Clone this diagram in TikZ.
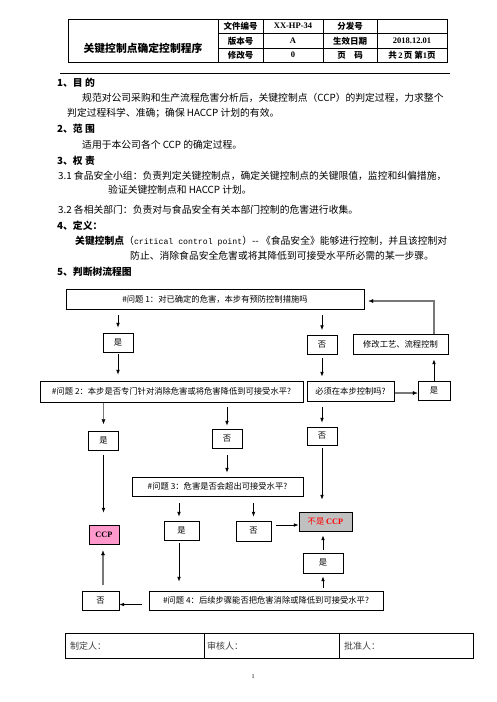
\documentclass[tikz,border=0pt]{standalone}
\usepackage{fontspec}
\setmainfont{Noto Sans CJK SC}
\newfontfamily\serifb{Liberation Serif}
\newfontfamily\monof{Liberation Mono}
\usetikzlibrary{arrows.meta}
\definecolor{ccppink}{RGB}{255,153,204}
\definecolor{ncgray}{RGB}{192,192,192}
\definecolor{lgray}{RGB}{120,120,120}
\begin{document}
\begin{tikzpicture}[x=1pt,y=-1pt,
  tbl/.style={draw, line width=0.8pt},
  cell/.style={inner sep=0pt, font=\fontsize{8.5}{10}\selectfont\bfseries},
  txt/.style={anchor=west, inner sep=0pt, font=\fontsize{9.8}{12}\selectfont},
  hd/.style={anchor=west, inner sep=0pt, font=\fontsize{9.8}{12}\selectfont\bfseries},
  box/.style={draw, line width=0.8pt, inner sep=0pt, minimum height=19pt, font=\fontsize{8.3}{10}\selectfont},
  arr/.style={draw, line width=0.8pt, -{Latex[length=4.8pt,width=3.8pt]}},
  garr/.style={draw=lgray, line width=1.3pt, -{Latex[length=4.8pt,width=3.8pt,color=black,fill=black,line width=0.3pt]}}
]
\useasboundingbox (0,0) rectangle (496,702);
\fill[white] (0,0) rectangle (496,702);

% header table
\draw[tbl] (68,19) rectangle (447,62);
\foreach \xx in {218,263,323,377} \draw[tbl] (\xx,19) -- (\xx,62);
\draw[tbl] (218,33.5) -- (447,33.5);
\draw[tbl] (218,48) -- (447,48);
\node[cell, font=\fontsize{10.8}{12}\selectfont\bfseries] (title) at (143,48) {关键控制点确定控制程序};
\node[cell] (c11) at (240.5,26) {文件编号};
\node[cell] (c12) at (293,26) {\serifb\bfseries XX-HP-34};
\node[cell] (c13) at (350,26) {分发号};
\node[cell] (c21) at (240.5,41) {版本号};
\node[cell] (c22) at (293,41) {\serifb\bfseries A};
\node[cell] (c23) at (350,41) {生效日期};
\node[cell] (c24) at (412,41) {\serifb\bfseries 2018.12.01};
\node[cell] (c31) at (240.5,55) {修改号};
\node[cell] (c32) at (293,55) {\serifb\bfseries 0};
\node[cell] (c33) at (350,55) {页\quad 码};
\node[cell] (c34) at (412,55) {共{\serifb\bfseries\,2\,}页 第{\serifb\bfseries 1}页};

\draw[line width=1pt] (60,73) -- (450,73);

% body text
\node[hd] (h1) at (57,83) {1、目\ 的};
\node[txt] (l2) at (82,98) {规范对公司采购和生产流程危害分析后，关键控制点（CCP）的判定过程，力求整个};
\node[txt] (l3) at (67,113) {判定过程科学、准确；确保 HACCP 计划的有效。};
\node[hd] (h2) at (57,129) {2、范\ 围};
\node[txt] (l5) at (82,145) {适用于本公司各个 CCP 的确定过程。};
\node[hd] (h3) at (57,161) {3、权\ 责};
\node[txt] (l7) at (58,176) {3.1 食品安全小组：负责判定关键控制点，确定关键控制点的关键限值，监控和纠偏措施，};
\node[txt] (l8) at (108,190) {验证关键控制点和 HACCP 计划。};
\node[txt] (l9) at (58,210) {3.2\ 各相关部门：负责对与食品安全有关本部门控制的危害进行收集。};
\node[hd] (h4) at (57,226) {4、定义：};
\node[txt] (l11) at (75,241) {\textbf{关键控制点}（{\monof\fontsize{8.2}{10}\selectfont critical control point}）-{}- 《食品安全》能够进行控制，并且该控制对};
\node[txt] (l12) at (130,256) {防止、消除食品安全危害或将其降低到可接受水平所必需的某一步骤。};
\node[hd] (h5) at (57,272) {5、判断树流程图};

% flowchart boxes
\node[box, minimum width=298pt, minimum height=20pt] (q1) at (215,299) {\#问题 1：对已确定的危害，本步有预防控制措施吗};
\node[box, minimum width=30pt] (yes1) at (118,342.5) {是};
\node[box, minimum width=30pt] (no1) at (322,345) {否};
\node[box, minimum width=95pt, minimum height=20pt] (mod) at (400.5,344) {修改工艺、流程控制};
\node[box, minimum width=263pt, minimum height=21pt] (q2) at (171.5,391.5) {\#问题 2：本步是否专门针对消除危害或将危害降低到可接受水平?};
\node[box, minimum width=87pt, minimum height=20pt] (must) at (350.5,391) {必须在本步控制吗?};
\node[box, minimum width=32pt] (yesR) at (434,391) {是};
\node[box, minimum width=30pt] (yes2) at (103.5,441) {是};
\node[box, minimum width=30pt] (no2) at (227,438.5) {否};
\node[box, minimum width=30pt, minimum height=18pt] (no3) at (322,436) {否};
\node[box, minimum width=171pt] (q3) at (217.5,486.5) {\#问题 3：危害是否会超出可接受水平?};
\node[box, minimum width=30pt, fill=ccppink] (ccp) at (104,534.5) {\serifb\bfseries CCP};
\node[box, minimum width=35pt] (yes3) at (181.5,530.5) {是};
\node[box, minimum width=35pt, minimum height=20pt] (no4) at (253.5,531) {否};
\node[box, minimum width=53pt, fill=ncgray, text=red] (notccp) at (325.5,521.5) {不是 {\serifb\bfseries CCP}};
\node[box, minimum width=40pt, minimum height=20pt] (yes4) at (323,563) {是};
\node[box, minimum width=234pt] (q4) at (266,600.5) {\#问题 4：后续步骤能否把危害消除或降低到可接受水平?};
\node[box, minimum width=37pt] (no5) at (100.5,600.5) {否};

% connectors
\draw[arr, shorten <=6pt, shorten >=5pt] (yes1.north |- q1.south) -- (yes1.north);
\draw[arr, shorten <=6pt, shorten >=5pt] (no1.north |- q1.south) -- (no1.north);
\draw[arr, shorten <=2pt, shorten >=6pt] (yes1.south) -- (yes1.south |- q2.north);
\draw[arr, shorten <=3pt, shorten >=4pt] (no1.south) -- (no1.south |- must.north);
\draw[garr, shorten <=1pt] ([yshift=-2pt]must.east) -- ([yshift=-2pt]yesR.west);
\draw[arr, shorten >=5pt] (yesR.north) -- (yesR.north |- mod.south);
\draw[garr, shorten >=4pt] (yesR.north |- mod.north) |- ([yshift=-2pt]q1.east);
\draw[garr, shorten <=1pt, shorten >=7pt] (yes2.north |- q2.south) -- (yes2.north);
\draw[arr, shorten <=5pt, shorten >=3pt] (no2.north |- q2.south) -- (no2.north);
\draw[arr, shorten <=6pt, shorten >=4pt] (no3.north |- must.south) -- (no3.north);
\draw[arr, shorten <=7pt, shorten >=4pt] (no2.south) -- (no2.south |- q3.north);
\draw[arr, shorten <=4pt, shorten >=12pt] (yes2.south) -- (yes2.south |- ccp.north);
\draw[arr, shorten <=3pt, shorten >=12pt] (no3.south) -- (no3.south |- notccp.north);
\draw[arr, shorten <=7pt, shorten >=4pt] ([xshift=-2.5pt]yes3.north |- q3.south) -- ([xshift=-2.5pt]yes3.north);
\draw[arr, shorten <=7pt, shorten >=4pt] (no4.north |- q3.south) -- (no4.north);
\draw[arr, shorten <=5pt] ([yshift=6pt]no4.east) -- ([yshift=6pt]no4.east -| notccp.west);
\draw[arr, shorten <=3pt, shorten >=4pt] (yes4.north) -- (yes4.north |- notccp.south);
\draw[arr, shorten <=3pt, shorten >=3pt] (yes4.south |- q4.north) -- (yes4.south);
\draw[arr, shorten <=3pt, shorten >=9pt] ([xshift=-2.5pt]yes3.south) -- ([xshift=-2.5pt]yes3.south |- q4.north);
\draw[arr, shorten <=7pt] ([yshift=-4pt]q4.west) -- ([yshift=-4pt]no5.east);
\draw[garr, shorten <=6pt, shorten >=6pt] ([xshift=2.5pt]no5.north) -- ([xshift=2.5pt]no5.north |- ccp.south);

% footer
\draw[tbl] (65,633) rectangle (473,658);
\draw[tbl] (204,633) -- (204,658);
\draw[tbl] (339,633) -- (339,658);
\node[anchor=west, inner sep=0pt, font=\fontsize{9}{11}\selectfont, text=black!75] (f1) at (70,646) {制定人：};
\node[anchor=west, inner sep=0pt, font=\fontsize{9}{11}\selectfont, text=black!75] (f2) at (207,646) {审核人：};
\node[anchor=west, inner sep=0pt, font=\fontsize{9}{11}\selectfont, text=black!75] (f3) at (344,646) {批准人：};
\node[inner sep=0pt, font=\fontsize{6}{7}\selectfont] (pg) at (253,677) {\serifb 1};
\end{tikzpicture}
\end{document}
